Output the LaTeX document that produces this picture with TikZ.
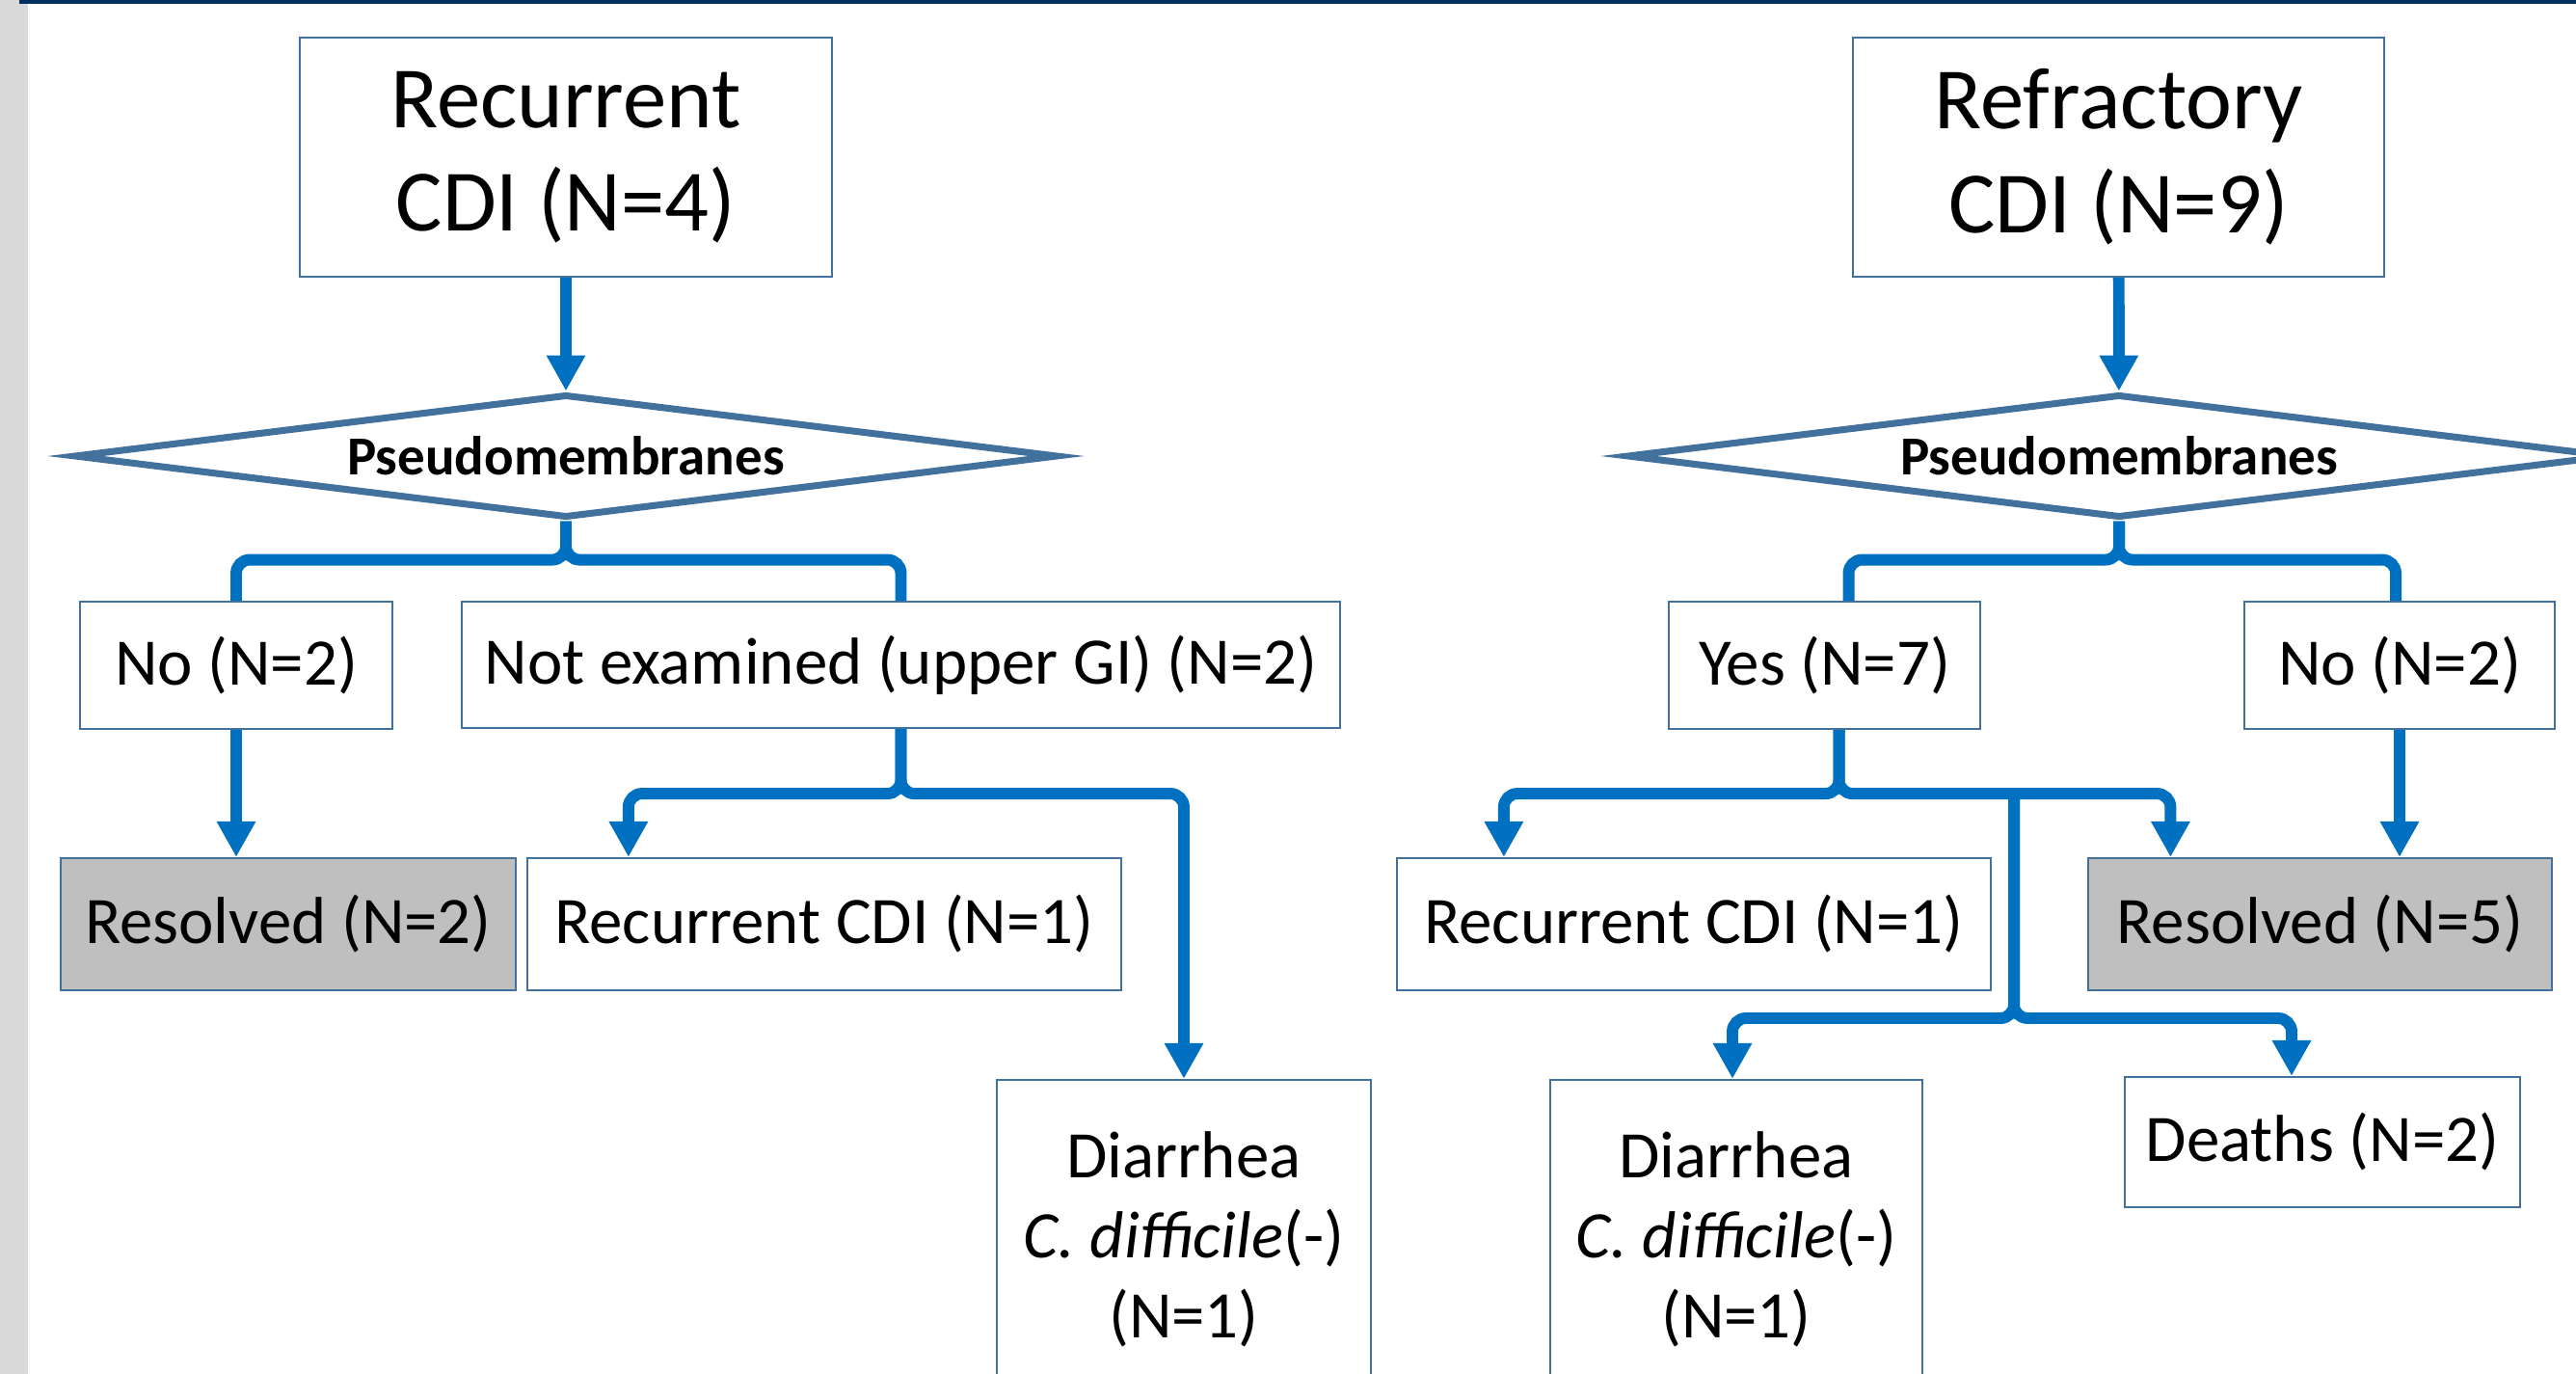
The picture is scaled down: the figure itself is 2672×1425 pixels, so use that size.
\documentclass[tikz,border=0pt]{standalone}
\usepackage{fontspec}
\setmainfont{Carlito}
\usetikzlibrary{positioning}
\usetikzlibrary{arrows.meta}
\usetikzlibrary{shapes.geometric}
\definecolor{linkblue}{RGB}{0,112,192}
\definecolor{edge}{RGB}{65,113,156}
\definecolor{shade}{RGB}{191,191,191}
\definecolor{strip}{RGB}{217,217,217}
\definecolor{navy}{RGB}{0,48,96}

\begin{document}
\begin{tikzpicture}[x=0.01cm,y=-0.01cm,>={Triangle[width=10.8pt,length=10.5pt]},
box/.style={draw=edge,line width=0.6pt,fill=white,inner sep=0pt,align=center,font=\fontsize{19.6}{23.6}\selectfont},
title/.style={box,font=\fontsize{25.8}{30.6}\selectfont},
done/.style={box,fill=shade},
test/.style={diamond,aspect=7.97,draw=edge,line width=2pt,fill=white,inner sep=0pt,minimum width=10.2cm,minimum height=1.28cm,font=\bfseries\fontsize{16.2}{19}\selectfont},
link/.style={draw=linkblue,line width=3.4pt,rounded corners=4pt},
arr/.style={link,->}]

\clip (0,0) rectangle (2672,1425);
\fill [white] (0,0) rectangle (2672,1425);
\fill [strip] (0,0) rectangle (29,1425);
\fill [navy] (20,0) rectangle (2672,4);

\node [title,minimum width=5.52cm,minimum height=2.48cm] (rec) at (587,163) {Recurrent\\CDI (N=4)};
\node [title,minimum width=5.51cm,minimum height=2.48cm] (ref) at (2197.5,163) {Refractory\\CDI (N=9)};
\node [test] (dL) at (587,473) {Pseudomembranes};
\node [test] (dR) at (2198,473) {Pseudomembranes};

\node [box,minimum width=3.24cm,minimum height=1.32cm] (noL) at (245,690) {No (N=2)};
\node [box,minimum width=9.11cm,minimum height=1.31cm] (nex) at (934.5,689.5) {Not examined (upper GI) (N=2)};
\node [box,minimum width=3.23cm,minimum height=1.32cm] (yes) at (1892.5,690) {Yes (N=7)};
\node [box,minimum width=3.22cm,minimum height=1.32cm] (noR) at (2489,690) {No (N=2)};

\node [done,minimum width=4.72cm,minimum height=1.37cm] (resL) at (299,958.5) {Resolved (N=2)};
\node [box,minimum width=6.16cm,minimum height=1.37cm] (rcL) at (855,958.5) {Recurrent CDI (N=1)};
\node [box,minimum width=6.16cm,minimum height=1.37cm] (rcR) at (1757,958.5) {Recurrent CDI (N=1)};
\node [done,minimum width=4.81cm,minimum height=1.37cm] (resR) at (2406.5,958.5) {Resolved (N=5)};

\node [box,minimum width=3.88cm,minimum height=3.3cm] (dfL) at (1228,1285) {Diarrhea\\\textit{C. difficile}(-)\\(N=1)};
\node [box,minimum width=3.86cm,minimum height=3.3cm] (dfR) at (1801,1285) {Diarrhea\\\textit{C. difficile}(-)\\(N=1)};
\node [box,minimum width=4.10cm,minimum height=1.35cm] (dead) at (2409,1184.5) {Deaths (N=2)};

\coordinate (split) at (2089,822);
\coordinate (fork) at (2089,1056);

\draw [arr] (rec) -- (dL);
\draw [arr] (ref) -- (dR);

\draw [link] (dL.south) -- ++(0,40) -| (noL.north);
\draw [link] (dL.south) -- ++(0,40) -| (nex.north);
\draw [link] (dR.south) -- ++(0,40) -| ([xshift=0.25cm]yes.north);
\draw [link] (dR.south) -- ++(0,40) -| ([xshift=-0.04cm]noR.north);

\draw [arr] (noL.south) -- (noL.south |- resL.north);
\draw [arr] (nex.south) -- ++(0,67) -| ([xshift=-2.03cm]rcL.north);
\draw [arr] (nex.south) -- ++(0,67) -| (dfL.north);

\draw [arr] ([xshift=0.15cm]yes.south) -- ++(0,66) -| ([xshift=-1.97cm]rcR.north);
\draw [arr] ([xshift=0.15cm]yes.south) -- ++(0,66) -| ([xshift=-1.55cm]resR.north);
\draw [arr] (noR.south) -- (noR.south |- resR.north);

\draw [arr] (split) -- (fork) -| ([xshift=-0.04cm]dfR.north);
\draw [arr] (split) -- (fork) -| ([xshift=-0.32cm]dead.north);
\end{tikzpicture}
\end{document}
